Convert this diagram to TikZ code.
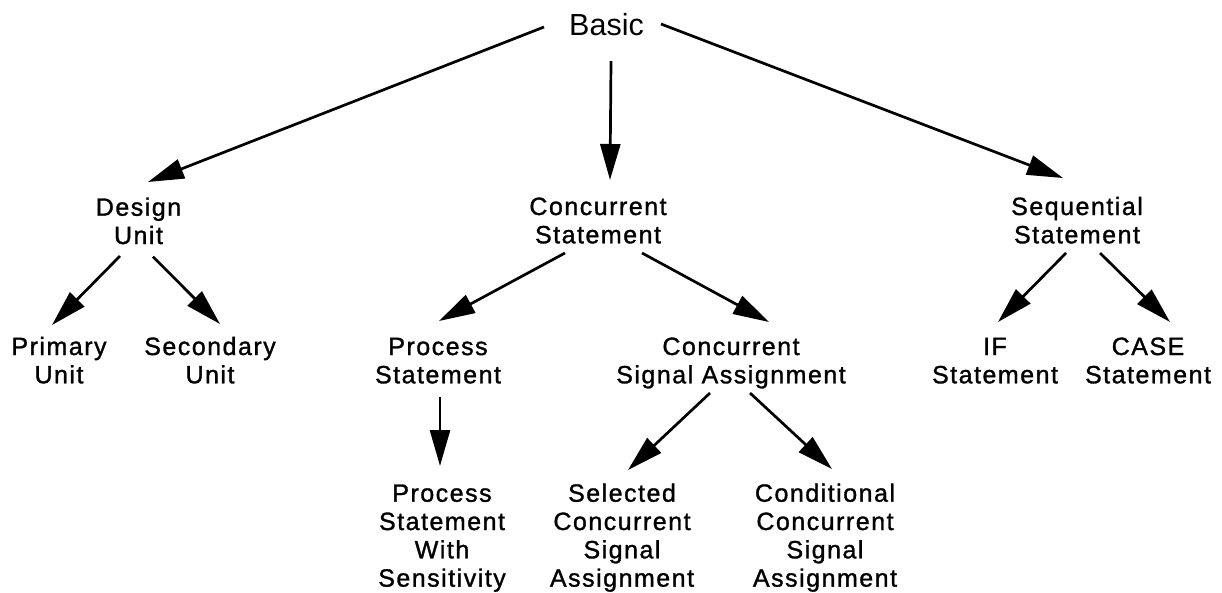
\documentclass[tikz,border=0pt]{standalone}
\usepackage{fontspec}
\setmainfont{Liberation Sans}
\newfontfamily\lblfont[LetterSpace=6,FakeBold=1.2]{Liberation Sans}
\usetikzlibrary{arrows.meta,calc}
\begin{document}
\begin{tikzpicture}[x=1pt,y=-1pt,
  lbl/.style={anchor=base,align=center,inner sep=0pt,font=\lblfont\fontsize{25}{28.3}\selectfont},
  top/.style={anchor=base,inner sep=0pt,font=\fontsize{30.5}{34}\selectfont},
  arr/.style={line width=2.7pt,-{Triangle[length=36pt,width=20pt]}}]
\useasboundingbox[fill=white] (0,0) rectangle (1222,592);

% base anchors sit on the baseline of the last line of each label
\node[top] (basic) at (606.5,35) {Basic};

\node[lbl] (design) at (138.5,244) {Design\\Unit};
\node[lbl] (conc) at (598,243.3) {Concurrent\\Statement};
\node[lbl] (seq) at (1077,243.3) {Sequential\\Statement};

\node[lbl] (prim) at (59,383.3) {Primary\\Unit};
\node[lbl] (sec) at (210,383.3) {Secondary\\Unit};
\node[lbl] (proc) at (438,383.3) {Process\\Statement};
\node[lbl] (csa) at (731,383.3) {Concurrent\\Signal Assignment};
\node[lbl] (ifs) at (995,383.3) {IF\\Statement};
\node[lbl] (cases) at (1148,383.3) {CASE\\Statement};

\node[lbl] (psws) at (442,586.6) {Process\\Statement\\With\\Sensitivity};
\node[lbl] (sel) at (622,586.6) {Selected\\Concurrent\\Signal\\Assignment};
\node[lbl] (cond) at (825,586.6) {Conditional\\Concurrent\\Signal\\Assignment};

\draw[arr] ($(basic.base)+(-62.5,-8)$) -- ($(design.base)+(9.5,-62)$);
\draw[arr] ($(basic.base)+(4.5,26)$) -- ($(conc.base)+(12,-63.3)$);
\draw[arr] ($(basic.base)+(54.5,-11)$) -- ($(seq.base)+(-14,-65.3)$);

\draw[arr] ($(design.base)+(-18.5,12)$) -- ($(prim.base)+(-7,-58.3)$);
\draw[arr] ($(design.base)+(14.5,12.7)$) -- ($(sec.base)+(10,-59.3)$);

\draw[arr] ($(conc.base)+(-33,9.7)$) -- ($(proc.base)+(1,-62.3)$);
\draw[arr] ($(conc.base)+(44,9.7)$) -- ($(csa.base)+(38,-61.3)$);

\draw[arr] ($(proc.base)+(2,13.7)$) -- ($(psws.base)+(-2,-120.6)$);
\draw[arr] ($(csa.base)+(-21,9.7)$) -- ($(sel.base)+(6,-116.6)$);
\draw[arr] ($(csa.base)+(19,9.7)$) -- ($(cond.base)+(7,-117.6)$);

\draw[arr] ($(seq.base)+(-11,9.7)$) -- ($(ifs.base)+(3,-61.3)$);
\draw[arr] ($(seq.base)+(23,9.7)$) -- ($(cases.base)+(22,-61.3)$);
\end{tikzpicture}
\end{document}
